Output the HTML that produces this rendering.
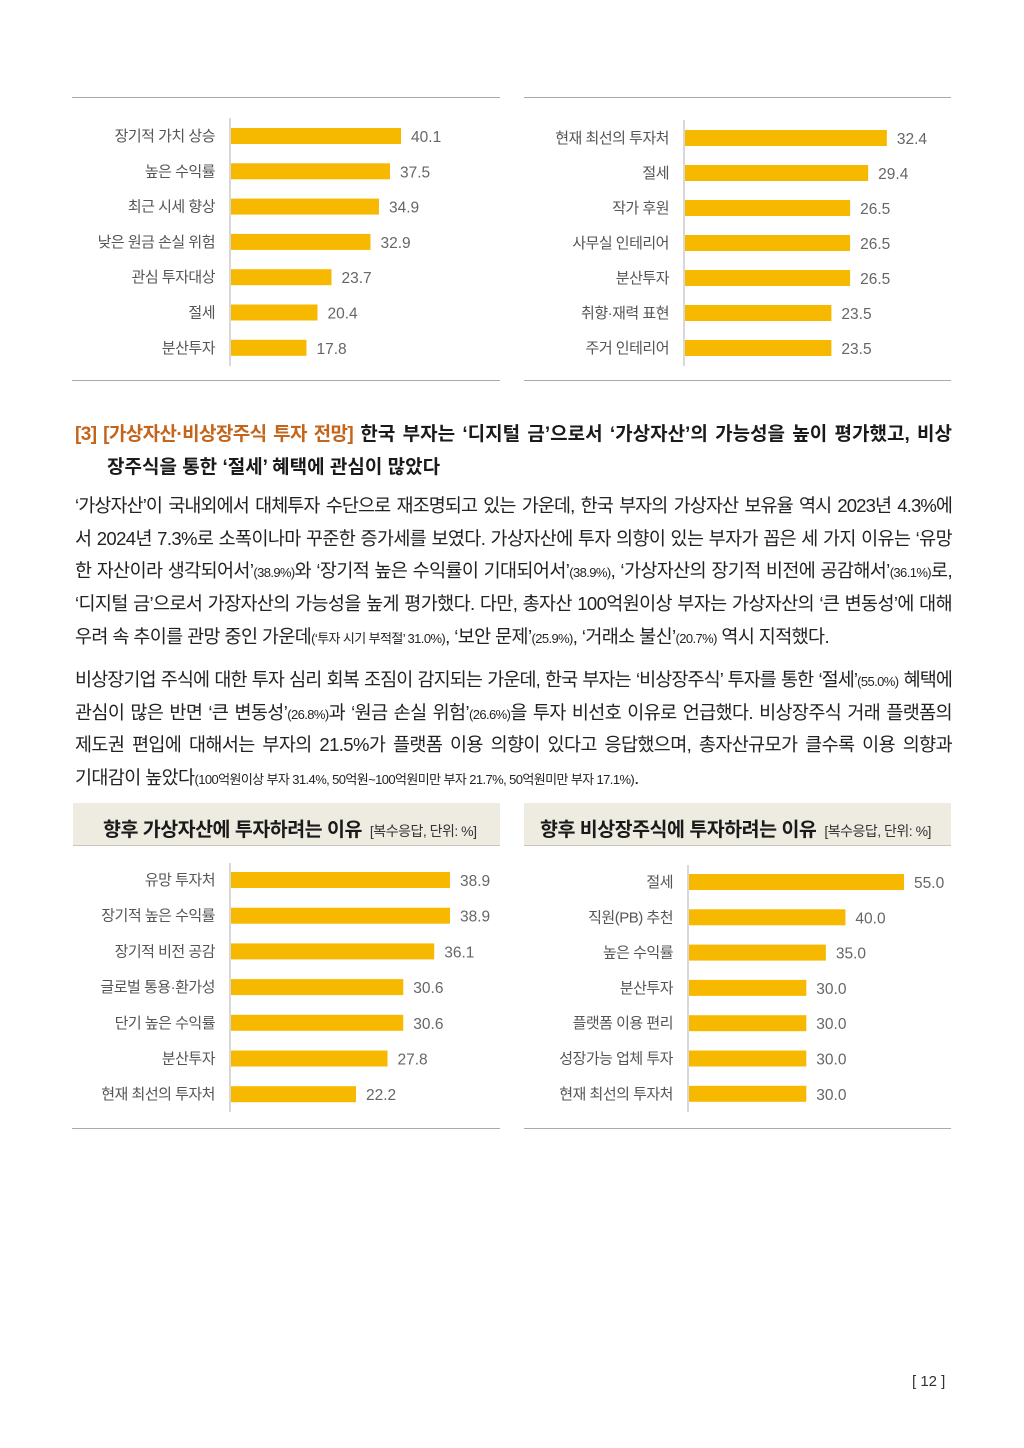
<!DOCTYPE html>
<html lang="ko"><head><meta charset="utf-8">
<style>
body{margin:0;width:1024px;height:1448px;background:#fff;position:relative;overflow:hidden;font-family:"Liberation Sans","Noto Sans CJK KR",sans-serif;color:#222}
.rule{position:absolute;height:1px;background:#aaa}
.head{position:absolute;left:75px;width:877px;font-size:19px;font-weight:bold;letter-spacing:0px;color:#1a1a1a}
.orange{color:#c4651c}
.body{position:absolute;left:75px;width:877px;font-size:18.5px;letter-spacing:-0.6px;color:#222}
.ln{position:absolute;left:0;width:877px;white-space:nowrap;text-align:justify;text-align-last:justify;height:24px;line-height:24px}
.ln.tight{letter-spacing:-0.9px}
.ln.last{width:auto;text-align:left;text-align-last:left}
.ln small{font-size:13px;letter-spacing:-0.6px}
.band{position:absolute;top:803px;height:42px;background:#eeebe1;border-bottom:1px solid #c9c6bb}
.band .t{position:absolute;top:10px;font-size:19.5px;font-weight:bold;letter-spacing:-0.5px;color:#1a1a1a;white-space:nowrap}
.band .t span{font-size:14px;font-weight:normal;color:#333;letter-spacing:-0.5px;margin-left:8px}
svg{position:absolute;left:0;top:0}
</style></head><body>
<div class="rule" style="left:72px;top:97px;width:428px"></div>
<div class="rule" style="left:72px;top:380px;width:428px"></div>
<div class="rule" style="left:524px;top:97px;width:427px"></div>
<div class="rule" style="left:524px;top:380px;width:427px"></div>
<div class="rule" style="left:72px;top:1128px;width:428px"></div>
<div class="rule" style="left:524px;top:1128px;width:427px"></div>

<div class="head" style="top:419px">
 <div style="position:absolute;left:0;top:0;width:877px;white-space:nowrap;text-align:justify;text-align-last:justify"><span class="orange" style="letter-spacing:-0.6px">[3] [가상자산·비상장주식 투자 전망]</span> 한국 부자는 ‘디지털 금’으로서 ‘가상자산’의 가능성을 높이 평가했고, 비상</div>
 <div style="position:absolute;left:32px;top:33px;white-space:nowrap">장주식을 통한 ‘절세’ 혜택에 관심이 많았다</div>
</div>

<div class="body" style="top:494px">
 <div class="ln tight" style="top:0">‘가상자산’이 국내외에서 대체투자 수단으로 재조명되고 있는 가운데, 한국 부자의 가상자산 보유율 역시 2023년 4.3%에</div>
 <div class="ln" style="top:33px">서 2024년 7.3%로 소폭이나마 꾸준한 증가세를 보였다. 가상자산에 투자 의향이 있는 부자가 꼽은 세 가지 이유는 ‘유망</div>
 <div class="ln" style="top:65px">한 자산이라 생각되어서’<small>(38.9%)</small>와 ‘장기적 높은 수익률이 기대되어서’<small>(38.9%)</small>, ‘가상자산의 장기적 비전에 공감해서’<small>(36.1%)</small>로,</div>
 <div class="ln" style="top:98px">‘디지털 금’으로서 가장자산의 가능성을 높게 평가했다. 다만, 총자산 100억원이상 부자는 가상자산의 ‘큰 변동성’에 대해</div>
 <div class="ln last" style="top:131px">우려 속 추이를 관망 중인 가운데<small>(‘투자 시기 부적절’ 31.0%)</small>, ‘보안 문제’<small>(25.9%)</small>, ‘거래소 불신’<small>(20.7%)</small> 역시 지적했다.</div>
</div>

<div class="body" style="top:668px">
 <div class="ln tight" style="top:0">비상장기업 주식에 대한 투자 심리 회복 조짐이 감지되는 가운데, 한국 부자는 ‘비상장주식’ 투자를 통한 ‘절세’<small>(55.0%)</small> 혜택에</div>
 <div class="ln" style="top:33px">관심이 많은 반면 ‘큰 변동성’<small>(26.8%)</small>과 ‘원금 손실 위험’<small>(26.6%)</small>을 투자 비선호 이유로 언급했다. 비상장주식 거래 플랫폼의</div>
 <div class="ln" style="top:65px">제도권 편입에 대해서는 부자의 21.5%가 플랫폼 이용 의향이 있다고 응답했으며, 총자산규모가 클수록 이용 의향과</div>
 <div class="ln last" style="top:98px">기대감이 높았다<small>(100억원이상 부자 31.4%, 50억원~100억원미만 부자 21.7%, 50억원미만 부자 17.1%)</small>.</div>
</div>

<div class="band" style="left:73px;width:427px"><div class="t" style="left:30px">향후 가상자산에 투자하려는 이유<span>[복수응답, 단위: %]</span></div></div>
<div class="band" style="left:524px;width:427px"><div class="t" style="left:16px">향후 비상장주식에 투자하려는 이유<span>[복수응답, 단위: %]</span></div></div>

<div style="position:absolute;left:912px;top:1373px;font-size:15px;color:#333;white-space:pre">[ 12 ]</div>

<svg id="charts" width="1024" height="1448"></svg>
<script>
const c1Categories=["장기적 가치 상승","높은 수익률","최근 시세 향상","낮은 원금 손실 위험","관심 투자대상","절세","분산투자"];
const c1Values=[40.1,37.5,34.9,32.9,23.7,20.4,17.8];
const c2Categories=["현재 최선의 투자처","절세","작가 후원","사무실 인테리어","분산투자","취향·재력 표현","주거 인테리어"];
const c2Values=[32.4,29.4,26.5,26.5,26.5,23.5,23.5];
const c3Categories=["유망 투자처","장기적 높은 수익률","장기적 비전 공감","글로벌 통용·환가성","단기 높은 수익률","분산투자","현재 최선의 투자처"];
const c3Values=[38.9,38.9,36.1,30.6,30.6,27.8,22.2];
const c4Categories=["절세","직원(PB) 추천","높은 수익률","분산투자","플랫폼 이용 편리","성장가능 업체 투자","현재 최선의 투자처"];
const c4Values=[55.0,40.0,35.0,30.0,30.0,30.0,30.0];

const NS="http://www.w3.org/2000/svg";
const svg=document.getElementById('charts');
function mk(tag,attrs){const e=document.createElementNS(NS,tag);for(const k in attrs)e.setAttribute(k,attrs[k]);svg.appendChild(e);return e;}
function chart(id,cats,vals,axisX,pxPerUnit,firstY,step,axisTop,axisBot){
  const xs=v=>axisX+1+v*pxPerUnit;
  const ys=i=>firstY+i*step;
  const ax=mk('line',{x1:axisX,x2:axisX,y1:axisTop,y2:axisBot,stroke:'#ccc','stroke-width':1.5});
  
  
  cats.forEach((c,i)=>{
    const y=ys(i);
    const r=mk('rect',{x:axisX+1,y:y-8,width:xs(vals[i])-axisX-1,height:16,fill:'#f7b900'});
    
    
    const t=mk('text',{x:axisX-15,y:y+5,'text-anchor':'end','font-size':15,fill:'#555','letter-spacing':'-0.5'});
    t.textContent=c;
    
    
    const v=mk('text',{x:xs(vals[i])+10,y:y+6,'font-size':15.5,fill:'#666'});
    v.textContent=vals[i].toFixed(1);
    
    
  });
}
chart('art-reason-chart',c1Categories,c1Values,230,4.24,136,35.3,118,366);
chart('art-reason-chart-2',c2Categories,c2Values,684,6.23,138,35.0,120,366);
chart('virtual-asset-chart',c3Categories,c3Values,230,5.63,880,35.7,863,1112);
chart('unlisted-stock-chart',c4Categories,c4Values,688,3.91,882,35.3,865,1112);
</script>
</body></html>
